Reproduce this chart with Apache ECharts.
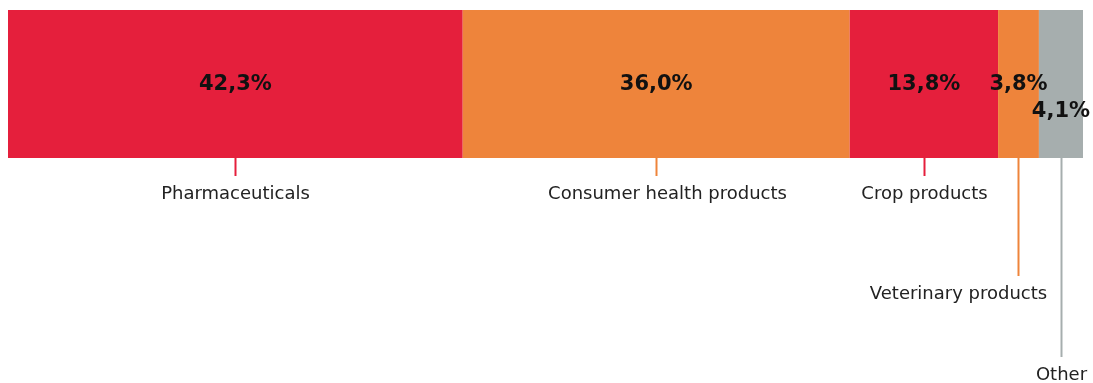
<!DOCTYPE html>
<html>
<head>
<meta charset="utf-8">
<script src="https://cdn.jsdelivr.net/npm/echarts@6/dist/echarts.min.js"></script>
<style>
  html, body { margin: 0; padding: 0; background: #ffffff; }
  #chart { width: 1093px; height: 383px; }
</style>
</head>
<body>
<div id="chart"></div>
<script>
// Sales share by segment (%)
const segments = ['Pharmaceuticals', 'Consumer health products', 'Crop products', 'Veterinary products', 'Other'];
const shares = [42.3, 36.0, 13.8, 3.8, 4.1];

// Styling per segment
const segmentColors = ['#E51F3C', '#EE843B', '#E51F3C', '#EE843B', '#A6AEAE'];
// Leader line length below the bar and horizontal text shift, per segment
const leaderLengths = [18, 18, 18, 118, 199];
const captionShift = [0, 11, 0, -60, 0];
// Vertical shift of the value label inside the bar
const valueShift = [1, 1, 1, 1, 28];

const BAR_HEIGHT = 148;
const fmt = v => v.toFixed(1).replace('.', ',') + '%';

// Cumulative start/end for each segment
const starts = [];
let acc = 0;
shares.forEach(v => { starts.push(acc); acc += v; });

const barSeries = shares.map((v, i) => ({
  name: segments[i],
  type: 'bar',
  stack: 'total',
  barWidth: BAR_HEIGHT,
  data: [v],
  itemStyle: { color: segmentColors[i] },
  silent: true,
  label: {
    show: true,
    position: 'inside',
    offset: [0, valueShift[i]],
    formatter: p => fmt(p.value),
    fontFamily: 'DejaVu Sans',
    fontWeight: 'bold',
    fontSize: 21,
    color: '#111111'
  }
}));

// Leader lines and segment names, placed from the value axis
const captionSeries = {
  type: 'custom',
  silent: true,
  data: shares.map((v, i) => [starts[i] + v / 2, 0, i]),
  renderItem: (params, api) => {
    const i = api.value(2);
    const pt = api.coord([api.value(0), api.value(1)]);
    const x = Math.round(pt[0]) + 0.5;
    const bottom = pt[1] + BAR_HEIGHT / 2;
    const end = bottom + leaderLengths[i];
    return {
      type: 'group',
      children: [
        {
          type: 'line',
          shape: { x1: x, y1: bottom, x2: x, y2: end },
          style: { stroke: segmentColors[i], lineWidth: 2 }
        },
        {
          type: 'text',
          x: x + captionShift[i],
          y: end + 18,
          style: {
            text: segments[i],
            fill: '#222222',
            font: '18px "DejaVu Sans"',
            align: 'center',
            verticalAlign: 'middle'
          }
        }
      ]
    };
  }
};

const chart = echarts.init(document.getElementById('chart'));
chart.setOption({
  animation: false,
  grid: { left: 8, right: 10, top: 10, height: BAR_HEIGHT, containLabel: false },
  xAxis: { type: 'value', min: 0, max: 100, show: false },
  yAxis: { type: 'category', data: ['share'], show: false },
  series: barSeries.concat([captionSeries])
});
</script>
</body>
</html>
